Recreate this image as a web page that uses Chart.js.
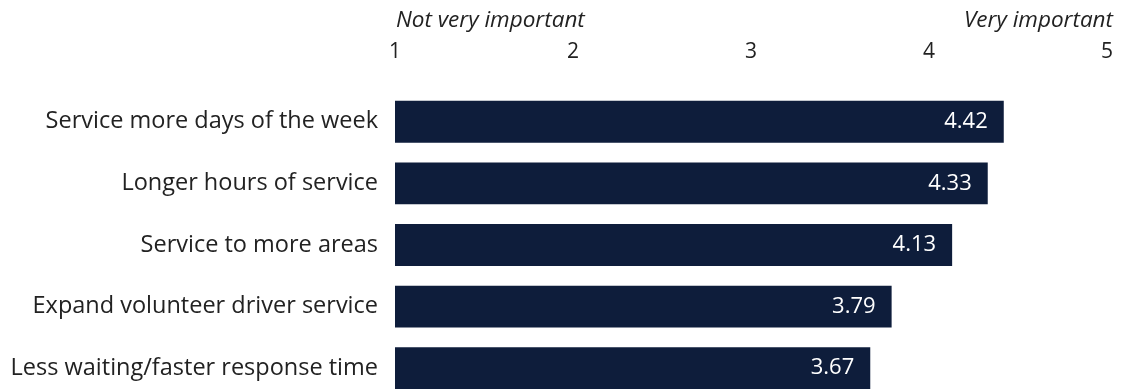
<!DOCTYPE html>
<html>
<head>
<meta charset="utf-8">
<script src="https://cdn.jsdelivr.net/npm/chart.js@4"></script>
<style>
  html, body { margin: 0; padding: 0; background: #fff; overflow: hidden; }
  canvas { display: block; }
</style>
</head>
<body>
<canvas id="chart" width="1122" height="399"></canvas>
<script>
var categories = [
  "Service more days of the week",
  "Longer hours of service",
  "Service to more areas",
  "Expand volunteer driver service",
  "Less waiting/faster response time"
];
var ratings = [4.42, 4.33, 4.13, 3.79, 3.67];
var scaleTicks = [1, 2, 3, 4, 5];
var scaleEnds = ["Not very important", "Very important"];

var FONT = "'Open Sans', sans-serif";
var NAVY = "#0e1d3b";

// scales should not push the plot area in for their edge labels
function noEdgePadding(scale) {
  scale.paddingLeft = 0;
  scale.paddingRight = 0;
  scale.paddingTop = 0;
  scale.paddingBottom = 0;
}

// white value labels inside the right end of each bar
var valueLabels = {
  id: "valueLabels",
  afterDatasetsDraw: function (chart) {
    var ctx = chart.ctx;
    var meta = chart.getDatasetMeta(0);
    ctx.save();
    ctx.fillStyle = "#ffffff";
    ctx.font = "22px " + FONT;
    ctx.textAlign = "right";
    ctx.textBaseline = "middle";
    meta.data.forEach(function (bar, i) {
      ctx.fillText(ratings[i].toFixed(2), bar.x - 16, bar.y);
    });
    ctx.restore();
  }
};

// italic anchors over both ends of the scale
var scaleAnchors = {
  id: "scaleAnchors",
  afterDraw: function (chart) {
    var ctx = chart.ctx;
    var x = chart.scales.x;
    ctx.save();
    ctx.fillStyle = "#222";
    ctx.font = "italic 22.5px " + FONT;
    ctx.textBaseline = "middle";
    ctx.textAlign = "left";
    ctx.fillText(scaleEnds[0], x.getPixelForValue(1) + 1, 21);
    ctx.textAlign = "right";
    ctx.fillText(scaleEnds[1], x.getPixelForValue(5) + 6, 21);
    ctx.restore();
  }
};

new Chart(document.getElementById("chart"), {
  type: "bar",
  data: {
    labels: categories,
    datasets: [{
      data: ratings,
      base: 1,
      backgroundColor: NAVY,
      borderWidth: 0,
      categoryPercentage: 1,
      barPercentage: 0.68
    }]
  },
  options: {
    indexAxis: "y",
    responsive: false,
    animation: false,
    layout: { padding: { top: 0, right: 15, bottom: 0, left: 0 } },
    plugins: { legend: { display: false }, tooltip: { enabled: false } },
    scales: {
      x: {
        position: "top",
        min: 1,
        max: 5,
        afterBuildTicks: function (scale) {
          scale.ticks = scaleTicks.map(function (v) { return { value: v }; });
        },
        afterFit: function (scale) {
          scale.height = 91;
          noEdgePadding(scale);
        },
        grid: { display: false, drawTicks: false },
        border: { display: false },
        ticks: {
          color: "#222",
          font: { family: FONT, size: 21 },
          padding: 26
        }
      },
      y: {
        afterFit: function (scale) {
          scale.width = 395;
          noEdgePadding(scale);
        },
        grid: { display: false, drawTicks: false },
        border: { display: false },
        ticks: {
          color: "#222",
          font: { family: FONT, size: 23.5 },
          padding: 17
        }
      }
    }
  },
  plugins: [valueLabels, scaleAnchors]
});
</script>
</body>
</html>
